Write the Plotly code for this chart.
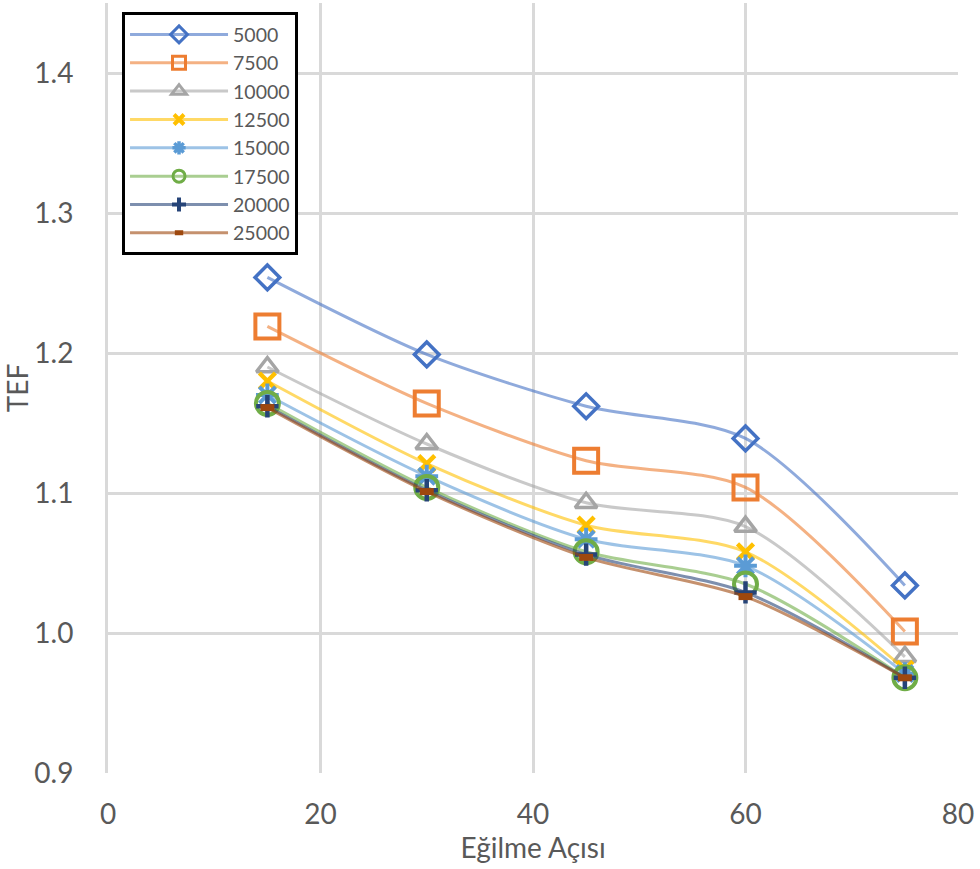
import plotly.graph_objects as go

angles = [15, 30, 45, 60, 75]
series_names = ["5000", "7500", "10000", "12500", "15000", "17500", "20000", "25000"]
tef_5000 = [1.254, 1.199, 1.162, 1.139, 1.034]
tef_7500 = [1.219, 1.164, 1.123, 1.104, 1.001]
tef_10000 = [1.190, 1.135, 1.093, 1.076, 0.983]
tef_12500 = [1.180, 1.121, 1.077, 1.058, 0.974]
tef_15000 = [1.170, 1.112, 1.067, 1.048, 0.971]
tef_17500 = [1.164, 1.104, 1.058, 1.035, 0.968]
tef_20000 = [1.162, 1.102, 1.056, 1.029, 0.968]
tef_25000 = [1.161, 1.101, 1.054, 1.026, 0.968]
series_values = [tef_5000, tef_7500, tef_10000, tef_12500, tef_15000, tef_17500, tef_20000, tef_25000]

x_ticks = [0, 20, 40, 60, 80]
y_ticks = [0.9, 1.0, 1.1, 1.2, 1.3, 1.4]

colors = ["#4472C4", "#ED7D31", "#A5A5A5", "#FFC000", "#5B9BD5", "#70AD47", "#264478", "#9E480E"]
symbols = ["diamond-open", "square-open", "triangle-up-open", "x-thin", "asterisk-open",
           "circle-open", "cross-thin", "line-ew"]
sizes = [19, 24, 19, 16, 19, 23, 16, 10]
mlw = [3.5, 4, 3.5, 4.5, 4, 4, 4.5, 7]
leg_sizes = [13, 13, 13, 10, 11, 12, 10, 6]
leg_mlw = [3, 3, 3, 4, 3.5, 3, 4, 7]


def rgba(h, a):
    h = h.lstrip("#")
    return "rgba(%d,%d,%d,%.2f)" % (int(h[0:2], 16), int(h[2:4], 16), int(h[4:6], 16), a)


fig = go.Figure()
for name, vals, c, s, sz, lw in zip(series_names, series_values, colors, symbols, sizes, mlw):
    fig.add_trace(go.Scatter(
        x=angles, y=vals, name=name, mode="lines+markers", showlegend=False,
        legendgroup=name,
        line=dict(color=rgba(c, 0.6), width=3, shape="spline", smoothing=0.8),
        marker=dict(symbol=s, size=sz, color=c, line=dict(color=c, width=lw)),
    ))

# legend entries (smaller symbols, as in the reference legend)
for name, c, s, sz, lw in zip(series_names, colors, symbols, leg_sizes, leg_mlw):
    fig.add_trace(go.Scatter(
        x=[None], y=[None], name=name, mode="lines+markers", legendgroup=name,
        line=dict(color=rgba(c, 0.6), width=3),
        marker=dict(symbol=s, size=sz, color=c, line=dict(color=c, width=lw)),
    ))

font_family = "Lato, 'Open Sans', sans-serif"
grey = "#595959"
fig.update_layout(
    width=980, height=869,
    margin=dict(l=108, r=22, t=3, b=96),
    paper_bgcolor="white", plot_bgcolor="white",
    font=dict(family=font_family, color=grey, size=28),
    showlegend=True,
    legend=dict(
        x=0.0165, y=0.988, xanchor="left", yanchor="top",
        bordercolor="black", borderwidth=3, bgcolor="white",
        font=dict(size=19.5, color=grey, family=font_family),
        itemwidth=98, itemsizing="trace", entrywidth=175, entrywidthmode="pixels",
        tracegroupgap=0,
    ),
    xaxis=dict(
        range=[0, 80], tickvals=x_ticks, showgrid=True, gridcolor="#D9D9D9", gridwidth=3,
        zeroline=False, showline=False, ticks="", ticklabelstandoff=22,
        tickfont=dict(size=28, color=grey),
        title=dict(text="Eğilme Açısı", font=dict(size=28, color=grey), standoff=4),
    ),
    yaxis=dict(
        range=[0.9, 1.45], tickvals=y_ticks, tickformat=".1f", showgrid=True, gridcolor="#D9D9D9",
        gridwidth=3, zeroline=False, showline=True, linecolor="#D9D9D9", linewidth=3,
        ticks="", ticklabelstandoff=26,
        tickfont=dict(size=28, color=grey),
        title=dict(text="TEF", font=dict(size=28, color=grey), standoff=6),
    ),
)

fig.write_html("out.html")
